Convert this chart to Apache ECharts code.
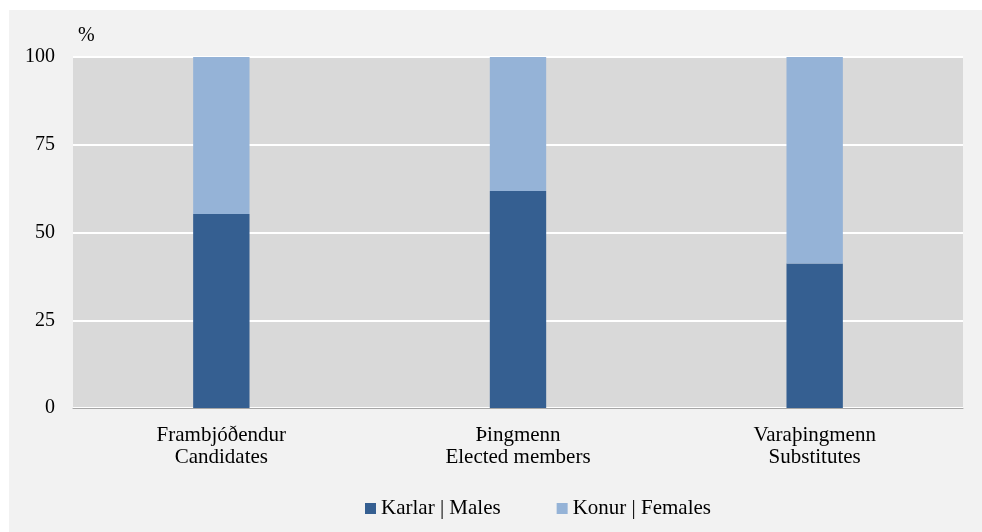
<!DOCTYPE html>
<html>
<head>
<meta charset="utf-8">
<script src="https://cdn.jsdelivr.net/npm/echarts@6/dist/echarts.min.js"></script>
<style>
  html, body { margin: 0; padding: 0; background: #ffffff; }
  #chart { width: 982px; height: 532px; }
</style>
</head>
<body>
<div id="chart"></div>
<script>
// categories (two-line labels)
const categories = [
  'Frambjóðendur\nCandidates',
  'Þingmenn\nElected members',
  'Varaþingmenn\nSubstitutes'
];
const seriesNames = ['Karlar | Males', 'Konur | Females'];
const males = [55.3, 61.8, 41.2];
const females = [44.7, 38.2, 58.8];
const yTicks = [0, 25, 50, 75, 100];

const serif = "'Liberation Serif', 'DejaVu Serif', serif";
const chart = echarts.init(document.getElementById('chart'));

const option = {
  backgroundColor: '#ffffff',
  animation: false,
  graphic: [
    {
      type: 'rect',
      z: -10,
      shape: { x: 9, y: 10, width: 973, height: 522 },
      style: { fill: '#f2f2f2' }
    },
    {
      type: 'text',
      left: 78,
      top: 26,
      style: { text: '%', font: '20px ' + serif, fill: '#000' }
    }
  ],
  grid: {
    left: 73,
    right: 19,
    top: 57,
    bottom: 124,
    show: true,
    backgroundColor: '#d9d9d9',
    borderWidth: 0
  },
  legend: {
    top: 493,
    left: 360,
    icon: 'rect',
    itemWidth: 11,
    itemHeight: 11,
    itemGap: 56,
    textStyle: { fontFamily: serif, fontSize: 21, color: '#000' },
    data: seriesNames
  },
  xAxis: {
    type: 'category',
    data: categories,
    axisTick: { show: false },
    axisLine: { lineStyle: { color: '#a6a6a6', width: 1 } },
    axisLabel: {
      margin: 16,
      fontFamily: serif,
      fontSize: 21,
      lineHeight: 22,
      color: '#000'
    }
  },
  yAxis: {
    type: 'value',
    min: yTicks[0],
    max: yTicks[yTicks.length - 1],
    interval: 25,
    axisLine: { show: false },
    axisTick: { show: false },
    splitLine: { lineStyle: { color: '#ffffff', width: 2 } },
    axisLabel: {
      margin: 18,
      fontFamily: serif,
      fontSize: 20,
      color: '#000'
    }
  },
  series: [
    {
      name: seriesNames[0],
      type: 'bar',
      stack: 'total',
      barWidth: '19%',
      itemStyle: { color: '#355f91' },
      data: males
    },
    {
      name: seriesNames[1],
      type: 'bar',
      stack: 'total',
      barWidth: '19%',
      itemStyle: { color: '#95b3d7' },
      data: females
    }
  ]
};

chart.setOption(option);
</script>
</body>
</html>
